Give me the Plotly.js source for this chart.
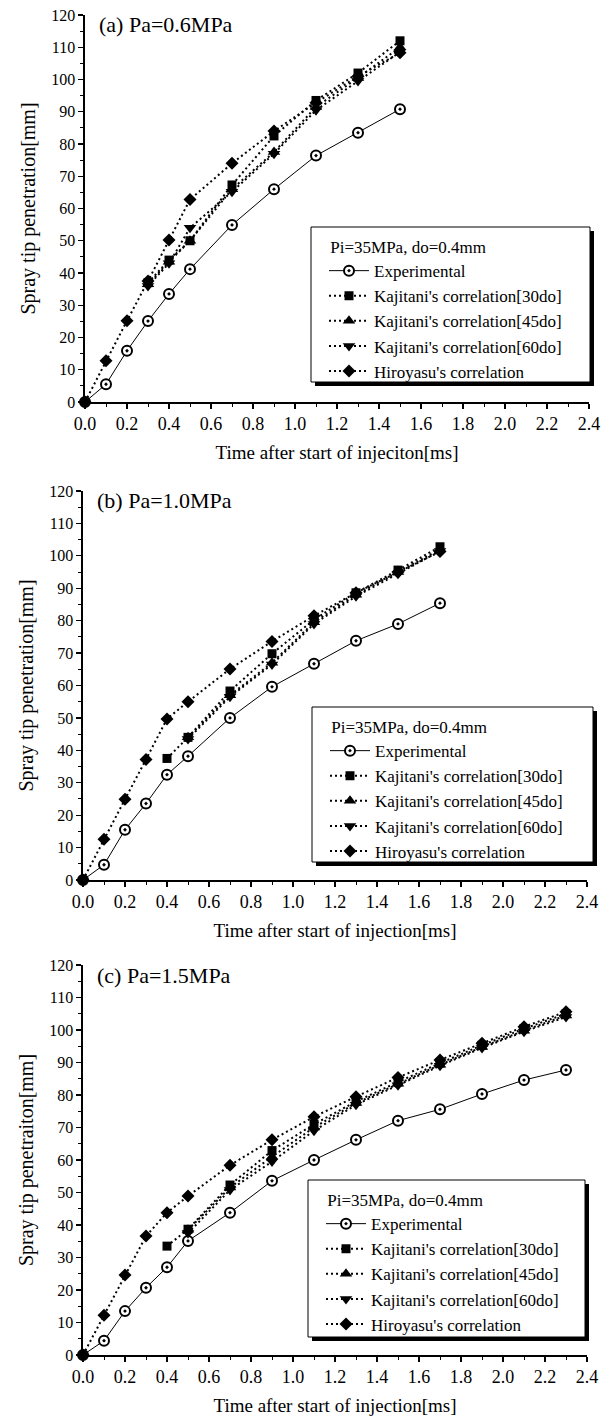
<!DOCTYPE html>
<html>
<head>
<meta charset="utf-8">
<script src="https://cdn.plot.ly/plotly-3.0.1.min.js"></script>
<style>html,body{margin:0;padding:0;background:#fff;}#chart{width:611px;height:1420px;}</style>
</head>
<body>
<div id="chart"></div>
<script>
// ---------- DATA ----------
// Panel (a) Pa=0.6MPa
const timeA = [0, 0.1, 0.2, 0.3, 0.4, 0.5, 0.7, 0.9, 1.1, 1.3, 1.5];
const expA = [0, 5.5, 15.9, 25.1, 33.5, 41.2, 54.9, 66.0, 76.4, 83.5, 90.8];
const hiroA = [0, 12.8, 25.2, 37.5, 50.2, 62.8, 74.0, 84.0, 92.8, 101.0, 108.3];
const timeKA = [0.3, 0.4, 0.5, 0.7, 0.9, 1.1, 1.3, 1.5];
const k30A = [37.0, 44.0, 50.0, 67.3, 82.5, 93.5, 102.0, 112.0];
const k45A = [36.5, 43.5, 50.0, 66.0, 77.5, 91.5, 100.5, 110.0];
const k60A = [36.0, 43.0, 54.0, 65.2, 77.0, 90.5, 99.5, 108.5];

// Panel (b) Pa=1.0MPa
const timeB = [0, 0.1, 0.2, 0.3, 0.4, 0.5, 0.7, 0.9, 1.1, 1.3, 1.5, 1.7];
const expB = [0, 4.7, 15.5, 23.6, 32.5, 38.2, 50.0, 59.6, 66.7, 73.8, 79.0, 85.4];
const hiroB = [0, 12.6, 24.9, 37.2, 49.7, 55.0, 65.1, 73.6, 81.5, 88.6, 95.0, 101.3];
const timeK30B = [0.4, 0.5, 0.7, 0.9, 1.1, 1.3, 1.5, 1.7];
const k30B = [37.5, 44.0, 58.3, 69.8, 80.3, 88.6, 95.6, 102.8];
const timeK45B = [0.5, 0.7, 0.9, 1.1, 1.3, 1.5, 1.7];
const k45B = [44.0, 57.0, 67.0, 79.5, 88.0, 95.0, 102.0];
const k60B = [43.5, 56.5, 66.5, 79.0, 87.5, 94.5, 101.5];

// Panel (c) Pa=1.5MPa
const timeC = [0, 0.1, 0.2, 0.3, 0.4, 0.5, 0.7, 0.9, 1.1, 1.3, 1.5, 1.7, 1.9, 2.1, 2.3];
const expC = [0, 4.4, 13.5, 20.7, 27.0, 35.1, 43.8, 53.6, 60.0, 66.2, 72.1, 75.6, 80.3, 84.6, 87.7];
const hiroC = [0, 12.2, 24.6, 36.6, 43.8, 48.9, 58.4, 66.2, 73.3, 79.5, 85.4, 90.8, 95.9, 101.0, 105.6];
const timeK30C = [0.4, 0.5, 0.7, 0.9, 1.1, 1.3, 1.5, 1.7, 1.9, 2.1, 2.3];
const k30C = [33.5, 38.7, 52.3, 62.9, 71.0, 78.0, 84.0, 89.8, 95.3, 100.4, 105.0];
const timeK45C = [0.5, 0.7, 0.9, 1.1, 1.3, 1.5, 1.7, 1.9, 2.1, 2.3];
const k45C = [38.5, 51.5, 61.0, 70.0, 77.5, 83.5, 89.3, 94.8, 99.8, 104.5];
const k60C = [37.5, 50.8, 59.5, 69.0, 77.0, 83.0, 89.0, 94.5, 99.5, 104.0];

const seriesNames = ["Experimental", "Kajitani's correlation[30do]", "Kajitani's correlation[45do]", "Kajitani's correlation[60do]", "Hiroyasu's correlation"];
const panelTitles = ["(a) Pa=0.6MPa", "(b) Pa=1.0MPa", "(c) Pa=1.5MPa"];
const xTitles = ["Time after start of injeciton[ms]", "Time after start of injection[ms]", "Time after start of injection[ms]"];
const yTitles = ["Spray tip penetration[mm]", "Spray tip penetration[mm]", "Spray tip penetraiton[mm]"];
const legendTitle = "Pi=35MPa, do=0.4mm";
const xTickVals = [0, 0.2, 0.4, 0.6, 0.8, 1.0, 1.2, 1.4, 1.6, 1.8, 2.0, 2.2, 2.4];
const xTickText = ["0.0", "0.2", "0.4", "0.6", "0.8", "1.0", "1.2", "1.4", "1.6", "1.8", "2.0", "2.2", "2.4"];
const yTickVals = [0, 10, 20, 30, 40, 50, 60, 70, 80, 90, 100, 110, 120];

// ---------- LAYOUT HELPERS ----------
const W = 611, H = 1420;
const FONT = '"Liberation Serif", "Times New Roman", Times, serif';
const fx = p => p / W;
const fy = p => 1 - p / H;

const panels = [
  {xd: [85, 589], yd: [15, 402], box: [311, 227, 590, 382]},
  {xd: [83, 587], yd: [491, 880], box: [312, 707, 593, 862]},
  {xd: [83, 587], yd: [965, 1355], box: [308, 1180, 585, 1337]}
];

const dataSets = [
  {exp: [timeA, expA], k30: [timeKA, k30A], k45: [timeKA, k45A], k60: [timeKA, k60A], hiro: [timeA, hiroA]},
  {exp: [timeB, expB], k30: [timeK30B, k30B], k45: [timeK45B, k45B], k60: [timeK45B, k60B], hiro: [timeB, hiroB]},
  {exp: [timeC, expC], k30: [timeK30C, k30C], k45: [timeK45C, k45C], k60: [timeK45C, k60C], hiro: [timeC, hiroC]}
];

const dotDash = '2px,3px';
const traces = [];
const layout = {
  width: W, height: H,
  margin: {l: 0, r: 0, t: 0, b: 0},
  paper_bgcolor: '#fff', plot_bgcolor: 'rgba(0,0,0,0)',
  font: {family: FONT, color: '#000', size: 17},
  showlegend: true,
  shapes: [], annotations: []
};

dataSets.forEach((d, i) => {
  const n = i === 0 ? '' : String(i + 1);
  const xa = 'x' + n, ya = 'y' + n;
  const lg = i === 0 ? 'legend' : 'legend' + (i + 1);
  const common = {type: 'scatter', mode: 'lines+markers', xaxis: xa, yaxis: ya, legend: lg, cliponaxis: false};
  traces.push(Object.assign({}, common, {
    x: d.exp[0], y: d.exp[1], name: seriesNames[0],
    line: {color: '#000', width: 1},
    marker: {symbol: 'circle-dot', size: 10, color: '#fff', line: {color: '#000', width: 2}}
  }));
  traces.push(Object.assign({}, common, {
    x: d.k30[0], y: d.k30[1], name: seriesNames[1],
    line: {color: '#000', width: 2, dash: dotDash},
    marker: {symbol: 'square', size: 9, color: '#000'}
  }));
  traces.push(Object.assign({}, common, {
    x: d.k45[0], y: d.k45[1], name: seriesNames[2],
    line: {color: '#000', width: 2, dash: dotDash},
    marker: {symbol: 'triangle-up', size: 11, color: '#000'}
  }));
  traces.push(Object.assign({}, common, {
    x: d.k60[0], y: d.k60[1], name: seriesNames[3],
    line: {color: '#000', width: 2, dash: dotDash},
    marker: {symbol: 'triangle-down', size: 11, color: '#000'}
  }));
  traces.push(Object.assign({}, common, {
    x: d.hiro[0], y: d.hiro[1], name: seriesNames[4],
    line: {color: '#000', width: 2, dash: dotDash},
    marker: {symbol: 'diamond', size: 10, color: '#000'}
  }));

  const p = panels[i];
  layout['xaxis' + n] = {
    domain: [fx(p.xd[0]), fx(p.xd[1])], anchor: ya, range: [0, 2.4],
    tickvals: xTickVals, ticktext: xTickText,
    ticks: 'outside', ticklen: 5, tickwidth: 1.3, tickcolor: '#000',
    minor: {dtick: 0.1, tick0: 0, ticks: 'outside', ticklen: 3, tickwidth: 1, tickcolor: '#000'},
    showline: true, linecolor: '#000', linewidth: 1.6,
    showgrid: false, zeroline: false,
    tickfont: {family: FONT, size: 18, color: '#000'},
    title: {text: xTitles[i], font: {family: FONT, size: 19, color: '#000'}, standoff: 12},
    fixedrange: true
  };
  layout['yaxis' + n] = {
    domain: [fy(p.yd[1]), fy(p.yd[0])], anchor: xa, range: [0, 120],
    tickvals: yTickVals,
    ticks: 'outside', ticklen: 5, tickwidth: 1.3, tickcolor: '#000',
    minor: {dtick: 5, tick0: 0, ticks: 'outside', ticklen: 3, tickwidth: 1, tickcolor: '#000'},
    showline: true, linecolor: '#000', linewidth: 1.6,
    showgrid: false, zeroline: false,
    tickfont: {family: FONT, size: 16, color: '#000'},
    title: {text: yTitles[i], font: {family: FONT, size: 20, color: '#000'}, standoff: 10},
    fixedrange: true
  };
  layout.annotations.push({
    xref: 'paper', yref: 'paper', x: fx(p.xd[0] + 12), y: fy(p.yd[0] + 10),
    xanchor: 'left', yanchor: 'middle', showarrow: false,
    text: panelTitles[i], font: {family: FONT, size: 22, color: '#000'}
  });
  const b = p.box;
  // legend shadow + box
  layout.shapes.push({type: 'rect', xref: 'paper', yref: 'paper', layer: 'above',
    x0: fx(b[0] + 4), x1: fx(b[2] + 4), y0: fy(b[3] + 4), y1: fy(b[1] + 4),
    fillcolor: '#000', line: {width: 0}});
  layout.shapes.push({type: 'rect', xref: 'paper', yref: 'paper', layer: 'above',
    x0: fx(b[0]), x1: fx(b[2]), y0: fy(b[3]), y1: fy(b[1]),
    fillcolor: '#fff', line: {color: '#000', width: 1}});
  layout[lg] = {
    x: fx(b[0] + 13), y: fy(b[1] + 4), xanchor: 'left', yanchor: 'top',
    bgcolor: 'rgba(0,0,0,0)', borderwidth: 0,
    font: {family: FONT, size: 17, color: '#000'},
    title: {text: '&nbsp;' + legendTitle, font: {family: FONT, size: 17, color: '#000'}},
    itemwidth: 40, traceorder: 'normal'
  };
});

Plotly.newPlot('chart', traces, layout, {staticPlot: true, displayModeBar: false});
</script>
</body>
</html>
